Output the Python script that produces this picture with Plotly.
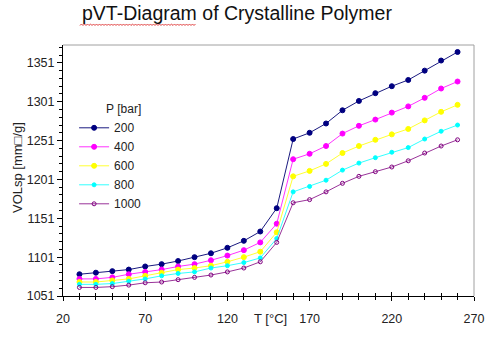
import plotly.graph_objects as go

# Temperature grid [°C]
temperature = [30, 40, 50, 60, 70, 80, 90, 100, 110, 120, 130, 140,
               150, 160, 170, 180, 190, 200, 210, 220, 230, 240, 250, 260]

# Specific volume per pressure level
vol_200 = [1079, 1081, 1083, 1085, 1089, 1092, 1096, 1101, 1106, 1113, 1122, 1134,
           1164, 1253, 1261, 1273, 1290, 1302, 1312, 1321, 1329, 1341, 1354, 1365]
vol_400 = [1073, 1073, 1075, 1079, 1082, 1085, 1089, 1092, 1097, 1103, 1110, 1120,
           1144, 1227, 1234, 1244, 1260, 1270, 1278, 1287, 1295, 1306, 1318, 1327]
vol_600 = [1069, 1069, 1071, 1073, 1077, 1081, 1085, 1087, 1090, 1095, 1101, 1108,
           1133, 1205, 1212, 1221, 1235, 1244, 1252, 1259, 1266, 1277, 1288, 1297]
vol_800 = [1066, 1066, 1067, 1070, 1073, 1077, 1080, 1082, 1087, 1090, 1094, 1100,
           1125, 1185, 1192, 1200, 1213, 1222, 1229, 1236, 1242, 1253, 1263, 1271]
vol_1000 = [1062, 1062, 1063, 1065, 1068, 1069, 1072, 1075, 1078, 1082, 1087, 1095,
            1120, 1171, 1175, 1185, 1196, 1205, 1211, 1217, 1225, 1235, 1244, 1252]

pressure_labels = ["200", "400", "600", "800", "1000"]
series = [vol_200, vol_400, vol_600, vol_800, vol_1000]
line_colors = ["#1a1a80", "#ff33ff", "#ffff33", "#33ffff", "#993399"]
marker_colors = ["#000080", "#ff00ff", "#ffff00", "#00ffff", "#800080"]
marker_symbols = ["circle", "circle", "circle", "circle", "circle-open"]
marker_sizes = [5, 5, 5, 4, 4]

x_ticks = [20, 70, 120, 170, 220, 270]
y_ticks = [1051, 1101, 1151, 1201, 1251, 1301, 1351]

FONT = "Liberation Sans, Arial, sans-serif"
TXT = "#222222"

# plot-area geometry in pixels, used to place paper-referenced decorations
L, R, T, B = 63, 474, 45, 296
W_PX, H_PX = R - L, B - T


def px_to_paper(px, py):
    return (px - L) / W_PX, (B - py) / H_PX


fig = go.Figure()
for name, vals, lc, mc, sym, ms in zip(pressure_labels, series, line_colors,
                                        marker_colors, marker_symbols, marker_sizes):
    fig.add_trace(go.Scatter(
        x=temperature, y=vals, name=name, mode="lines+markers",
        line=dict(color=lc, width=1),
        marker=dict(color=mc, size=ms, symbol=sym, line=dict(color=mc, width=1)),
    ))

# helper axis drawing the inner half of the crossing x ticks
fig.add_trace(go.Scatter(x=[20, 270], y=[None, None], xaxis="x2",
                         showlegend=False, hoverinfo="skip"))

fig.update_layout(
    width=500, height=342,
    margin=dict(l=L, r=500 - R, t=T, b=342 - B),
    paper_bgcolor="white", plot_bgcolor="white",
    font=dict(family=FONT, size=12, color=TXT),
    showlegend=True,
    legend=dict(
        x=0.027, y=0.79, xanchor="left", yanchor="top",
        bgcolor="rgba(0,0,0,0)", borderwidth=0,
        font=dict(family=FONT, size=12, color=TXT),
        itemwidth=30, tracegroupgap=0,
        title=dict(text="         P [bar]", font=dict(family=FONT, size=12, color=TXT)),
    ),
    xaxis=dict(
        range=[20, 270], tickvals=x_ticks, ticktext=[str(v) for v in x_ticks],
        showgrid=False, zeroline=False,
        showline=True, linecolor="#000000", linewidth=1,
        ticks="outside", ticklen=4, tickcolor="#000000", tickwidth=1,
        ticklabelstandoff=7,
        minor=dict(dtick=10, tick0=20, ticks="outside", ticklen=3,
                   tickcolor="#000000", tickwidth=1, showgrid=False),
        tickfont=dict(family=FONT, size=12.5, color=TXT),
    ),
    xaxis2=dict(
        overlaying="x", matches="x", range=[20, 270], side="bottom",
        showgrid=False, zeroline=False, showline=False, showticklabels=False,
        tickvals=x_ticks, ticks="inside", ticklen=4, tickcolor="#000000", tickwidth=1,
        minor=dict(dtick=10, tick0=20, ticks="inside", ticklen=3,
                   tickcolor="#000000", tickwidth=1, showgrid=False),
    ),
    yaxis=dict(
        range=[1051, 1374], tickvals=y_ticks, ticktext=[str(v) for v in y_ticks],
        showgrid=False, zeroline=False,
        showline=True, linecolor="#000000", linewidth=1,
        ticks="outside", ticklen=5, tickcolor="#000000", tickwidth=1,
        minor=dict(dtick=10, tick0=1051, ticks="outside", ticklen=3,
                   tickcolor="#000000", tickwidth=1, showgrid=False),
        tickfont=dict(family=FONT, size=12.5, color=TXT),
    ),
)

# grey frame on the top and right sides
fig.add_shape(type="line", xref="paper", yref="paper", x0=0, x1=1, y0=1, y1=1,
              line=dict(color="#a0a0a0", width=1))
fig.add_shape(type="line", xref="paper", yref="paper", x0=1, x1=1, y0=0, y1=1,
              line=dict(color="#a0a0a0", width=1))

# title
tx, ty = px_to_paper(80, 13)
fig.add_annotation(text="pVT-Diagram of Crystalline Polymer", xref="paper", yref="paper",
                   x=tx, y=ty, xanchor="left", yanchor="middle",
                   showarrow=False, font=dict(family=FONT, size=19.5, color="#111111"))

# wavy spell-check underline below the first word of the title
pts = []
px, k = 80.0, 0
while px <= 196:
    pts.append(px_to_paper(px, 25.5 if k % 2 == 0 else 24))
    px += 1.5
    k += 1
wave = "M " + " L ".join(f"{a:.5f},{b:.5f}" for a, b in pts)
fig.add_shape(type="path", xref="paper", yref="paper", path=wave,
              line=dict(color="#e04040", width=1))

# axis titles
ax, ay = px_to_paper(17, 168)
fig.add_annotation(text="VOLsp [mm\u25a1/g]", xref="paper", yref="paper",
                   x=ax, y=ay, textangle=-90,
                   xanchor="center", yanchor="middle", showarrow=False,
                   font=dict(family=FONT, size=13, color=TXT))
bx, by = px_to_paper(270, 318)
fig.add_annotation(text="T [°C]", xref="paper", yref="paper",
                   x=bx, y=by, xanchor="center", yanchor="middle", showarrow=False,
                   font=dict(family=FONT, size=13, color=TXT))

fig.write_html("out.html")
